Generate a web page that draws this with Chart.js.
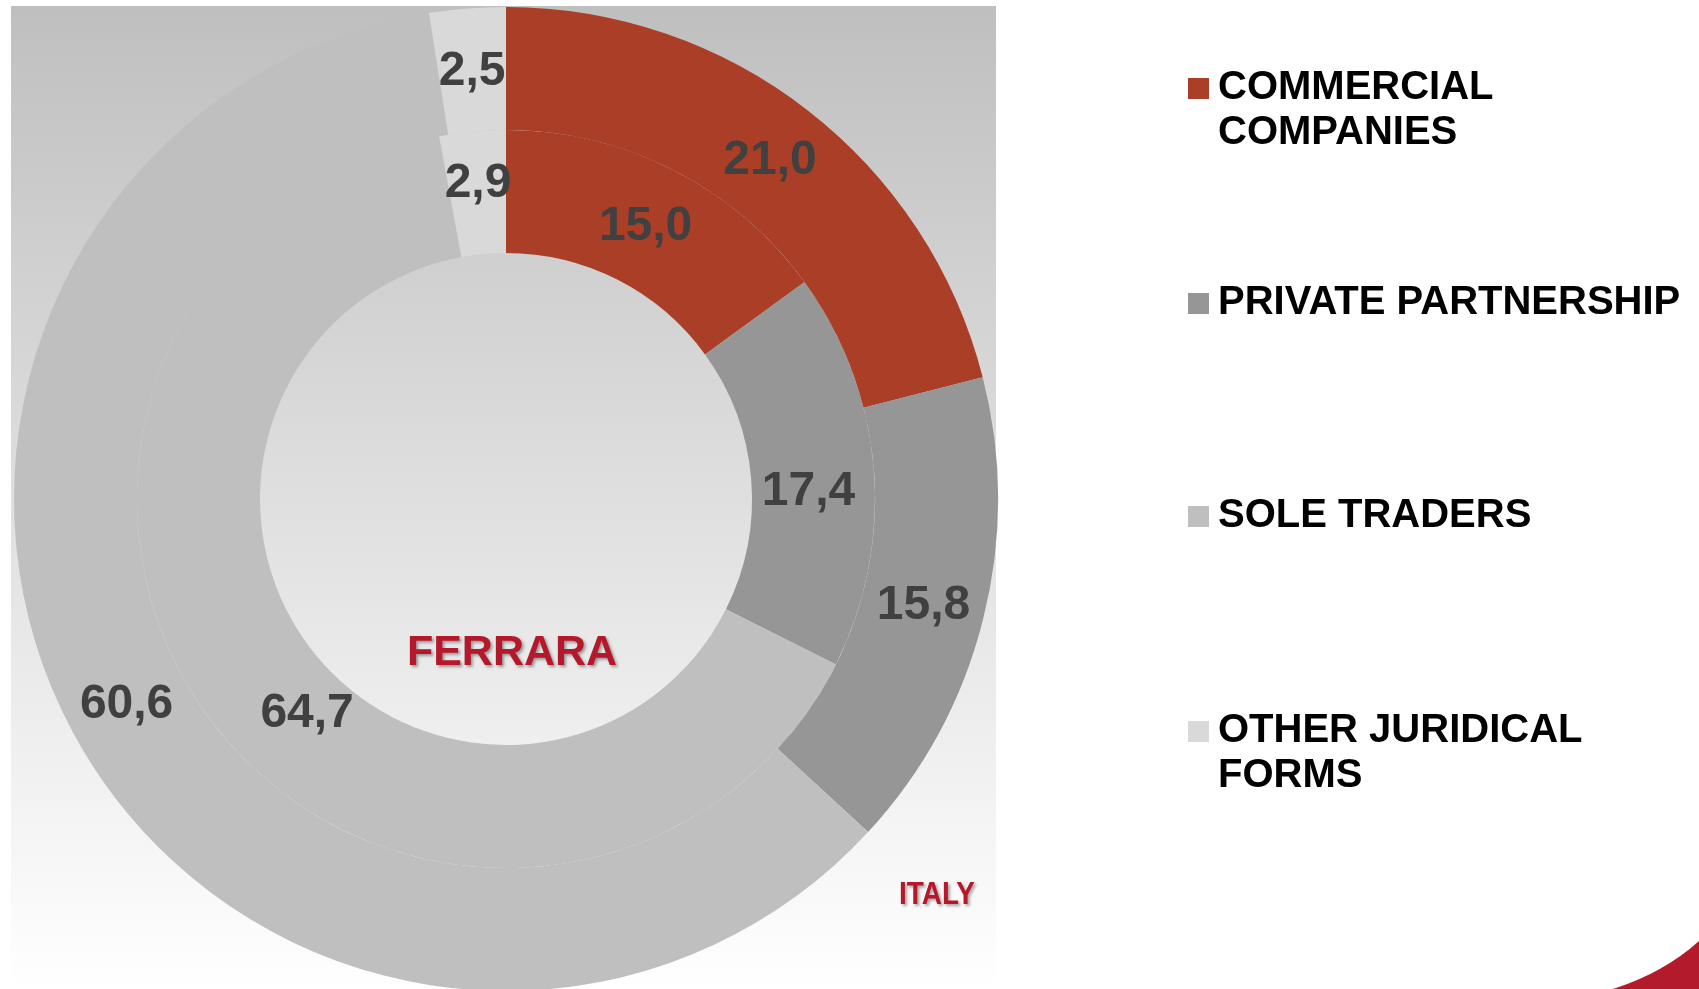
<!DOCTYPE html>
<html>
<head>
<meta charset="utf-8">
<script src="https://cdn.jsdelivr.net/npm/chart.js@4.4.1/dist/chart.umd.min.js"></script>
<style>
  html, body { margin: 0; padding: 0; background: #fff; overflow: hidden; width: 1699px; height: 989px; }
  #wrap { position: absolute; left: 0; top: 0; width: 1699px; height: 1000px; }
  #legend { position: absolute; left: 0; top: 0; font-family: "Liberation Sans", Arial, sans-serif; font-weight: bold; font-size: 40px; color: #000; }
  .item { position: absolute; left: 1188px; line-height: 45px; }
  .sw { position: absolute; left: 0; width: 21px; height: 21px; }
  .tx { position: absolute; left: 30px; white-space: nowrap; }
  svg { position: absolute; left: 0; top: 0; }
</style>
</head>
<body>
<div id="wrap"><canvas id="c" width="1699" height="1000"></canvas></div>
<div id="legend"></div>
<svg width="1699" height="989"><path d="M1613,989 Q1665,972 1699,941 L1699,989 Z" fill="#b31b2c"/></svg>
<script>
const categories = ["COMMERCIAL COMPANIES", "PRIVATE PARTNERSHIP", "SOLE TRADERS", "OTHER JURIDICAL FORMS"];
const legendLines = [["COMMERCIAL", "COMPANIES"], ["PRIVATE PARTNERSHIP"], ["SOLE TRADERS"], ["OTHER JURIDICAL", "FORMS"]];
const italyValues = [21.0, 15.8, 60.6, 2.5];
const ferraraValues = [15.0, 17.4, 64.7, 2.9];
const colors = ["#ab3e26", "#969696", "#bfbfbf", "#d9d9d9"];
// label nudges (pixels) relative to each arc's centre point: [outer ring, inner ring]
const labelNudges = [
  [[0, 0], [0, 0], [0, 0], [0, 0]],
  [[0, 0], [-4, 16], [47, 28], [0, -11]]
];

const bgPlugin = {
  id: 'bg',
  beforeDraw(chart) {
    const ctx = chart.ctx;
    const g = ctx.createLinearGradient(0, 6, 0, 989);
    g.addColorStop(0, '#bfbfbf');
    g.addColorStop(1, '#ffffff');
    ctx.save();
    ctx.fillStyle = g;
    ctx.fillRect(11, 6, 985, 983);
    ctx.restore();
  }
};

const labelPlugin = {
  id: 'labels',
  afterDatasetsDraw(chart) {
    const ctx = chart.ctx;
    ctx.save();
    ctx.font = 'bold 48px "Liberation Sans", Arial, sans-serif';
    ctx.fillStyle = '#404040';
    ctx.textAlign = 'center';
    ctx.textBaseline = 'middle';
    chart.data.datasets.forEach((ds, di) => {
      const meta = chart.getDatasetMeta(di);
      meta.data.forEach((arc, i) => {
        const p = arc.getCenterPoint();
        const n = labelNudges[di][i];
        ctx.fillText(ds.data[i].toFixed(1).replace('.', ','), p.x + n[0], p.y + 2 + n[1]);
      });
    });
    // ring titles
    const cx = (chart.chartArea.left + chart.chartArea.right) / 2;
    const cy = (chart.chartArea.top + chart.chartArea.bottom) / 2;
    ctx.shadowColor = 'rgba(0,0,0,0.35)';
    ctx.shadowBlur = 3;
    ctx.shadowOffsetX = 2;
    ctx.shadowOffsetY = 2;
    ctx.fillStyle = '#b5172b';
    ctx.font = 'bold 43px "Liberation Sans", Arial, sans-serif';
    ctx.fillText('FERRARA', cx + 6, cy + 154);
    ctx.font = 'bold 31px "Liberation Sans", Arial, sans-serif';
    ctx.save();
    ctx.translate(937, 895);
    ctx.scale(0.9, 1);
    ctx.fillText('ITALY', 0, 0);
    ctx.restore();
    ctx.restore();
  }
};

new Chart(document.getElementById('c'), {
  type: 'doughnut',
  data: {
    labels: categories,
    datasets: [
      { label: 'ITALY', data: italyValues, backgroundColor: colors, borderWidth: 0 },
      { label: 'FERRARA', data: ferraraValues, backgroundColor: colors, borderWidth: 0 }
    ]
  },
  options: {
    responsive: false,
    animation: false,
    cutout: '50%',
    layout: { padding: { left: 14, top: 7, right: 701, bottom: 9 } },
    plugins: { legend: { display: false }, tooltip: { enabled: false } },
    events: []
  },
  plugins: [bgPlugin, labelPlugin]
});

// legend
const legendTops = [72, 287, 500, 715];
const leg = document.getElementById('legend');
legendLines.forEach((lines, i) => {
  const it = document.createElement('div');
  it.className = 'item';
  it.style.top = (legendTops[i] - 9) + 'px';
  const sw = document.createElement('div');
  sw.className = 'sw';
  sw.style.background = colors[i];
  sw.style.top = '15px';
  const tx = document.createElement('div');
  tx.className = 'tx';
  tx.innerHTML = lines.join('<br>');
  it.appendChild(sw);
  it.appendChild(tx);
  leg.appendChild(it);
});
</script>
</body>
</html>
